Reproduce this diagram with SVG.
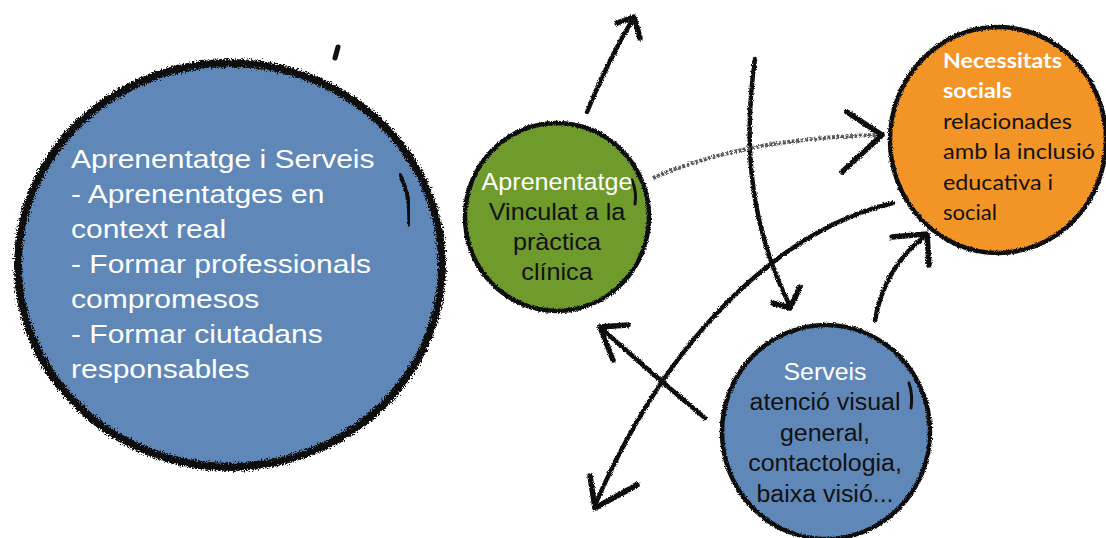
<svg xmlns="http://www.w3.org/2000/svg" width="1106" height="538" viewBox="0 0 1106 538">
  <defs>
    <filter id="rough" x="-5%" y="-5%" width="110%" height="110%">
      <feTurbulence type="fractalNoise" baseFrequency="0.7" numOctaves="3" seed="3" result="n"/>
      <feDisplacementMap in="SourceGraphic" in2="n" scale="8" xChannelSelector="R" yChannelSelector="G"/>
    </filter>
    <filter id="rough2" x="-5%" y="-5%" width="110%" height="110%">
      <feTurbulence type="fractalNoise" baseFrequency="1.2" numOctaves="2" seed="7" result="n"/>
      <feDisplacementMap in="SourceGraphic" in2="n" scale="3.5" xChannelSelector="R" yChannelSelector="G"/>
    </filter>
    <style>
      .rim { fill: none; stroke: #111; stroke-linecap: round; }
      .blue { fill: #5f88b8; }
      .green { fill: #6f9a2c; }
      .orange { fill: #f39427; }
      .arial { font-family: "Liberation Sans", Arial, sans-serif; }
      .calibri { font-family: Lato, "Open Sans", sans-serif; font-size: 21.5px; }
      .w { fill: #ffffff; }
      .k { fill: #111111; }
      .ln { fill: none; stroke: #111; stroke-width: 4.5; stroke-linecap: round; stroke-linejoin: round; }
      .hd { fill: none; stroke: #111; stroke-width: 5.5; stroke-linecap: round; stroke-linejoin: round; }
      .chalk { fill: none; stroke: #5a5a5a; stroke-width: 4; stroke-dasharray: 3 1.5; stroke-linecap: butt; }
    </style>
  </defs>

  <rect x="0" y="0" width="1106" height="538" fill="#ffffff"/>

  <!-- Big node -->
  <g id="node-aprenentatge-serveis">
    <ellipse class="blue" cx="230" cy="265" rx="212" ry="202"/>
    <ellipse class="rim" cx="230" cy="265" rx="212" ry="202" stroke-width="8" filter="url(#rough)"/>
    <ellipse class="rim" cx="230" cy="265" rx="213" ry="203" stroke-width="3" filter="url(#rough2)"/>
    <path class="rim" d="M400,175 Q411,196 409,225" stroke-width="4" filter="url(#rough2)"/>
    <path class="rim" d="M338,47 L335,58" stroke-width="5"/>
    <g class="arial w" font-size="25" transform="translate(71,0) scale(1.2,1)">
      <text x="0" y="168">Aprenentatge i Serveis</text>
      <text x="0" y="203">- Aprenentatges en</text>
      <text x="0" y="238">context real</text>
      <text x="0" y="273">- Formar professionals</text>
      <text x="0" y="308">compromesos</text>
      <text x="0" y="343">- Formar ciutadans</text>
      <text x="0" y="378">responsables</text>
    </g>
  </g>

  <!-- Green node -->
  <g id="node-aprenentatge-vinculat">
    <ellipse class="green" cx="557" cy="217" rx="92" ry="94"/>
    <ellipse class="rim" cx="557" cy="217" rx="92" ry="94" stroke-width="4.5" filter="url(#rough2)"/>
    <path class="rim" d="M632,180 Q637,192 635,204" stroke-width="3"/>
    <g class="arial" font-size="23.5" text-anchor="middle" transform="translate(557,0) scale(1.07,1)">
      <text class="w" x="0" y="190">Aprenentatge</text>
      <text class="k" x="0" y="220">Vinculat a la</text>
      <text class="k" x="0" y="250">pràctica</text>
      <text class="k" x="0" y="280">clínica</text>
    </g>
  </g>

  <!-- Orange node -->
  <g id="node-necessitats">
    <ellipse class="orange" cx="998" cy="140" rx="108" ry="113"/>
    <ellipse class="rim" cx="998" cy="140" rx="108" ry="113" stroke-width="4.5" filter="url(#rough2)"/>
    <g class="calibri">
      <text class="w" x="943" y="68" font-weight="bold" textLength="119" lengthAdjust="spacingAndGlyphs">Necessitats</text>
      <text class="w" x="943" y="98" font-weight="bold" textLength="69" lengthAdjust="spacingAndGlyphs">socials</text>
      <text class="k" x="943" y="129" textLength="129" lengthAdjust="spacingAndGlyphs">relacionades</text>
      <text class="k" x="943" y="159" textLength="152" lengthAdjust="spacingAndGlyphs">amb la inclusió</text>
      <text class="k" x="943" y="190" textLength="110" lengthAdjust="spacingAndGlyphs">educativa i</text>
      <text class="k" x="943" y="220" textLength="54" lengthAdjust="spacingAndGlyphs">social</text>
    </g>
  </g>

  <!-- Serveis node -->
  <g id="node-serveis">
    <ellipse class="blue" cx="826" cy="432" rx="104" ry="107"/>
    <ellipse class="rim" cx="826" cy="432" rx="104" ry="107" stroke-width="4.5" filter="url(#rough2)"/>
    <path class="rim" d="M909,383 Q913,395 911,408" stroke-width="3"/>
    <g class="arial" font-size="23.5" text-anchor="middle" transform="translate(825,0) scale(1.06,1)">
      <text class="w" x="0" y="380">Serveis</text>
      <text class="k" x="0" y="410">atenció visual</text>
      <text class="k" x="0" y="441">general,</text>
      <text class="k" x="0" y="471">contactologia,</text>
      <text class="k" x="0" y="502">baixa visió...</text>
    </g>
  </g>

  <!-- Connectors -->
  <g id="connectors" filter="url(#rough2)">
    <!-- green up -->
    <path class="ln" d="M587,112 Q608,60 633,19"/>
    <path class="hd" d="M617,23 L634,17 L640,38"/>
    <!-- top down arrow -->
    <path class="ln" d="M755,59 C742,150 752,230 790,306"/>
    <path class="hd" d="M773,303 L790,308 L800,287"/>
    <!-- chalky dotted arrow green -> orange -->
    <path class="chalk" d="M653,178 Q745,138 880,135"/>
    <path class="hd" d="M847,112 L882,135 L842,172" stroke-width="4.5"/>
    <!-- long curve from orange to bottom-left -->
    <path class="ln" d="M893,203 C800,225 680,310 595,505"/>
    <path class="hd" d="M590,476 L595,508 L637,485"/>
    <!-- serveis -> green -->
    <path class="ln" d="M705,418 Q650,372 601,328"/>
    <path class="hd" d="M628,325 L600,327 L613,360"/>
    <!-- serveis -> orange -->
    <path class="ln" d="M875,320 Q885,267 924,237"/>
    <path class="hd" d="M892,237 L927,234 L929,265"/>
  </g>
</svg>
